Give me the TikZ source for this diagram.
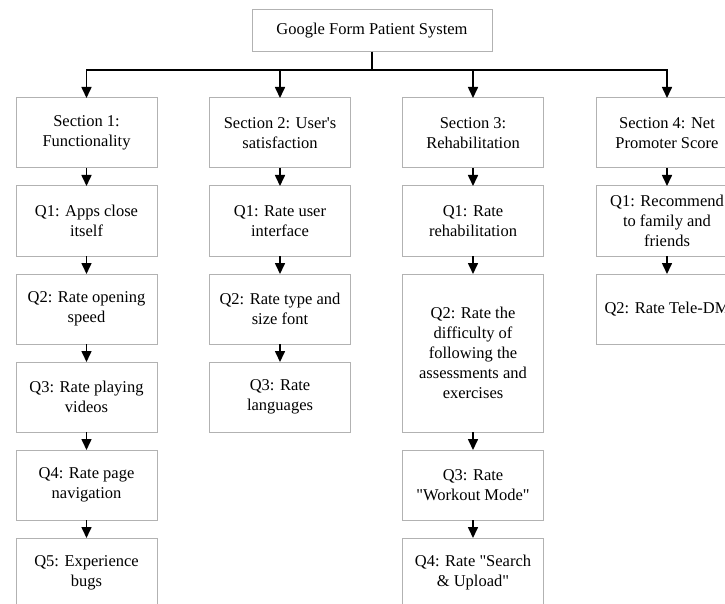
\documentclass[tikz,border=0pt]{standalone}
\usepackage{fontspec}
\setmainfont{Liberation Serif}
\usetikzlibrary{positioning,arrows.meta}
\definecolor{boxColor}{RGB}{178,178,178}
\tikzstyle{boxStyle} = [draw=boxColor, line width=1pt, minimum width=141pt, minimum height=70pt, inner sep=0pt, outer sep=0pt, align=center, font=\fontsize{16.5}{20}\selectfont]
\tikzstyle{titleStyle} = [boxStyle, minimum width=240pt, minimum height=42pt]
\tikzstyle{arrowStyle} = [color=black, line width=1.6pt, -{Triangle[length=11pt, width=10pt]}]
\newcommand{\questionBox}[3]{\node [boxStyle, below = 18pt of #2] (#1) {#3};}
\newcommand{\questionArrow}[2]{\draw [arrowStyle] (#1) -- (#2);}
\newcommand{\sectionArrow}[1]{\draw [arrowStyle] (title.south) -- (bus) -| (#1.north);}
\newcommand{\quoted}[1]{\textquotedbl #1\textquotedbl}

\begin{document}
\begin{tikzpicture}
  \useasboundingbox (0,0) rectangle (725pt,-604pt);
  \clip (0,0) rectangle (725pt,-604pt);
  \node [titleStyle] (title) at (372pt,-31pt) {Google Form Patient System};
  \coordinate [below = 18pt of title] (bus);

  \node [boxStyle] (secOne) at (86.5pt,-133pt) {Section 1:\\Functionality};
  \node [boxStyle] (secTwo) at (280pt,-133pt) {Section 2: User\textquotesingle s\\satisfaction};
  \node [boxStyle] (secThree) at (473pt,-133pt) {Section 3:\\Rehabilitation};
  \node [boxStyle] (secFour) at (667pt,-133pt) {Section 4: Net\\Promoter Score};
  \foreach \section in {secOne,secTwo,secThree,secFour} {
    \sectionArrow{\section}
  }

  % section 1
  \questionBox{oneQOne}{secOne}{Q1: Apps close\\itself}
  \questionBox{oneQTwo}{oneQOne}{Q2: Rate opening\\speed}
  \questionBox{oneQThree}{oneQTwo}{Q3: Rate playing\\videos}
  \questionBox{oneQFour}{oneQThree}{Q4: Rate page\\navigation}
  \questionBox{oneQFive}{oneQFour}{Q5: Experience\\bugs}
  \questionArrow{secOne}{oneQOne}
  \questionArrow{oneQOne}{oneQTwo}
  \questionArrow{oneQTwo}{oneQThree}
  \questionArrow{oneQThree}{oneQFour}
  \questionArrow{oneQFour}{oneQFive}

  % section 2
  \questionBox{twoQOne}{secTwo}{Q1: Rate user\\interface}
  \questionBox{twoQTwo}{twoQOne}{Q2: Rate type and\\size font}
  \questionBox{twoQThree}{twoQTwo}{Q3: Rate\\languages}
  \questionArrow{secTwo}{twoQOne}
  \questionArrow{twoQOne}{twoQTwo}
  \questionArrow{twoQTwo}{twoQThree}

  % section 3
  \questionBox{threeQOne}{secThree}{Q1: Rate\\rehabilitation}
  \node [boxStyle, minimum height=158pt, below = 18pt of threeQOne] (threeQTwo) {Q2: Rate the\\difficulty of\\following the\\assessments and\\exercises};
  \questionBox{threeQThree}{threeQTwo}{Q3: Rate\\\quoted{Workout Mode}}
  \questionBox{threeQFour}{threeQThree}{Q4: Rate \textquotedbl Search\\\& Upload\textquotedbl}
  \questionArrow{secThree}{threeQOne}
  \questionArrow{threeQOne}{threeQTwo}
  \questionArrow{threeQTwo}{threeQThree}
  \questionArrow{threeQThree}{threeQFour}

  % section 4
  \questionBox{fourQOne}{secFour}{Q1: Recommend\\to family and\\friends}
  \questionBox{fourQTwo}{fourQOne}{Q2: Rate Tele-DM}
  \questionArrow{secFour}{fourQOne}
  \questionArrow{fourQOne}{fourQTwo}
\end{tikzpicture}
\end{document}
